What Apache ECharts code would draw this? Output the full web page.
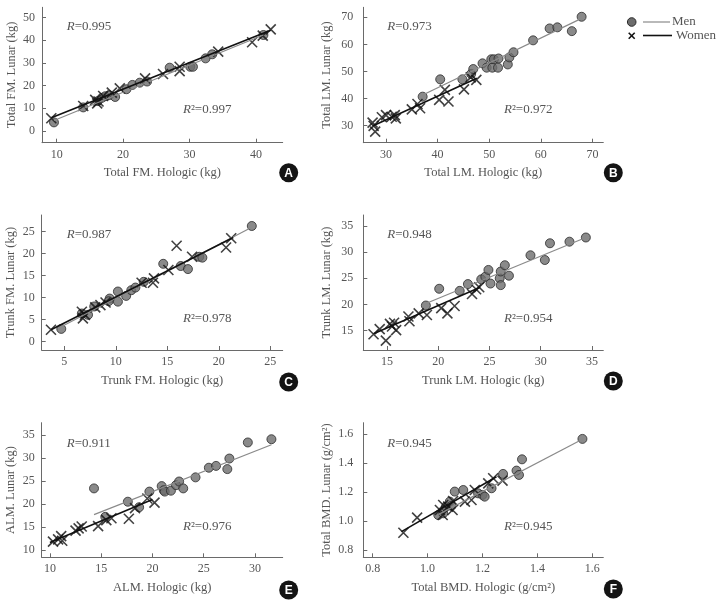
<!DOCTYPE html>
<html>
<head>
<meta charset="utf-8">
<script src="https://cdn.jsdelivr.net/npm/echarts@6/dist/echarts.min.js"></script>
<style>html,body{margin:0;padding:0;background:#fff}#c{width:720px;height:604px}</style>
</head>
<body>
<div id="c"></div>
<script>
// ---------- DATA ----------
// Panel A: Total FM
const menA = [[9.6,3.8],[14.0,10.4],[16.2,13.2],[16.8,14.6],[17.3,15.3],[17.9,15.8],[18.8,15.0],[20.5,18.4],[21.4,20.3],[22.5,21.3],[23.6,21.8],[27.0,27.9],[30.1,28.3],[30.5,28.3],[32.4,32.0],[33.4,33.8],[41.1,42.3]];
const womenA = [[9.2,5.6],[14.0,11.0],[15.8,13.7],[16.1,12.2],[16.3,13.0],[17.0,15.4],[18.3,16.9],[19.5,18.8],[23.3,23.2],[26.0,25.1],[28.5,28.3],[28.5,26.4],[34.3,35.0],[39.4,39.1],[41.0,42.0],[42.2,44.8]];
const fitMenA = [[9.6,4.6],[41.1,42.3]];
const fitWomenA = [[9.2,5.8],[42.2,44.4]];
// Panel B: Total LM
const menB = [[37.1,40.7],[40.5,47.1],[44.8,47.1],[46.5,49.1],[46.9,50.9],[48.7,53.0],[49.5,51.4],[50.4,54.5],[50.6,51.4],[50.9,54.5],[51.8,54.8],[51.7,51.4],[53.6,52.6],[53.9,55.2],[54.7,57.1],[58.5,61.5],[61.7,65.9],[63.2,66.3],[66.0,64.9],[67.9,70.2]];
const womenB = [[27.4,31.1],[27.9,27.8],[27.6,29.9],[29.2,33.1],[30.0,33.9],[31.1,33.3],[31.7,33.9],[31.9,32.7],[35.0,36.0],[36.1,38.0],[36.6,36.4],[40.3,39.5],[41.4,43.2],[42.1,38.9],[45.1,43.4],[46.4,47.8],[47.5,46.9]];
const fitMenB = [[37.1,41.3],[67.9,69.6]];
const fitWomenB = [[27.4,29.9],[47.6,47.5]];
// Panel C: Trunk FM
const menC = [[4.7,2.9],[6.7,6.4],[7.3,6.1],[7.9,8.0],[9.4,9.8],[9.3,9.2],[10.2,9.1],[10.2,11.4],[11.0,10.4],[11.5,11.7],[11.9,12.3],[12.7,13.6],[14.6,17.7],[16.3,17.2],[17.0,16.5],[18.1,19.3],[18.4,19.1],[23.2,26.3]];
const womenC = [[3.7,2.7],[6.7,6.8],[6.8,5.3],[7.0,6.1],[8.0,7.8],[8.5,8.3],[9.0,8.9],[12.5,13.4],[13.6,13.4],[13.7,14.4],[15.1,16.3],[15.9,21.8],[17.4,19.3],[20.7,21.4],[21.2,23.5]];
const fitMenC = [[4.7,3.4],[23.2,26.0]];
const fitWomenC = [[3.7,2.7],[21.4,23.7]];
// Panel D: Trunk LM
const menD = [[18.8,19.8],[20.1,23.0],[22.1,22.6],[22.9,23.9],[24.2,24.8],[24.6,25.3],[24.9,26.6],[25.1,24.0],[26.0,25.0],[26.1,23.7],[26.1,26.3],[26.5,27.5],[26.9,25.5],[29.0,29.4],[30.4,28.5],[30.9,31.7],[32.8,32.0],[34.4,32.8]];
const womenD = [[13.7,14.3],[14.3,15.3],[14.9,13.1],[15.3,16.3],[15.5,15.8],[15.7,16.5],[15.9,15.1],[17.1,17.7],[17.2,16.8],[18.1,18.3],[18.9,18.0],[20.3,19.3],[20.9,18.3],[21.6,19.7],[23.3,22.0],[23.7,22.9],[24.0,23.3]];
const fitMenD = [[18.8,20.2],[34.4,32.8]];
const fitWomenD = [[13.7,14.4],[24.1,23.3]];
// Panel E: ALM
const menE = [[14.3,23.4],[15.4,17.2],[17.6,20.5],[18.7,19.3],[19.7,22.7],[20.9,23.9],[21.1,23.0],[21.2,22.7],[21.8,22.9],[22.3,24.1],[22.6,24.9],[23.0,23.4],[24.2,25.8],[25.5,27.9],[26.2,28.3],[27.3,27.6],[27.5,29.9],[29.3,33.4],[31.6,34.1]];
const womenE = [[10.3,11.8],[10.8,12.3],[11.1,13.0],[11.2,12.0],[12.5,14.2],[12.8,14.7],[13.1,15.1],[14.7,15.2],[15.5,16.5],[16.0,16.9],[17.7,16.8],[18.3,19.1],[19.5,21.2],[20.2,20.3]];
const fitMenE = [[14.3,17.7],[31.6,32.9]];
const fitWomenE = [[10.0,11.6],[20.0,21.0]];
// Panel F: Total BMD
const menF = [[1.039,1.042],[1.057,1.054],[1.067,1.100],[1.081,1.135],[1.087,1.105],[1.099,1.204],[1.130,1.215],[1.184,1.192],[1.200,1.181],[1.208,1.169],[1.233,1.227],[1.275,1.326],[1.324,1.349],[1.333,1.319],[1.344,1.427],[1.564,1.568]];
const womenF = [[0.912,0.920],[0.962,1.024],[1.045,1.077],[1.055,1.042],[1.057,1.111],[1.075,1.100],[1.091,1.077],[1.093,1.139],[1.136,1.135],[1.160,1.146],[1.172,1.215],[1.221,1.261],[1.239,1.296],[1.273,1.280]];
const fitMenF = [[1.039,1.045],[1.564,1.566]];
const fitWomenF = [[0.905,0.927],[1.251,1.307]];

// Tick labels
const xTicksA = [10,20,30,40], yTicksA = [0,10,20,30,40,50];
const xTicksB = [30,40,50,60,70], yTicksB = [30,40,50,60,70];
const xTicksC = [5,10,15,20,25], yTicksC = [0,5,10,15,20,25];
const xTicksD = [15,20,25,30,35], yTicksD = [15,20,25,30,35];
const xTicksE = [10,15,20,25,30], yTicksE = [10,15,20,25,30,35];
const xTicksF = [0.8,1.0,1.2,1.4,1.6], yTicksF = [0.8,1.0,1.2,1.4,1.6];

const rTexts = ['0.995','0.973','0.987','0.948','0.911','0.945'];
const r2Texts = ['0.997','0.972','0.978','0.954','0.976','0.945'];
const xTitles = ['Total FM. Hologic (kg)','Total LM. Hologic (kg)','Trunk FM. Hologic (kg)','Trunk LM. Hologic (kg)','ALM. Hologic (kg)','Total BMD. Hologic (g/cm²)'];
const yTitles = ['Total FM. Lunar (kg)','Total LM. Lunar (kg)','Trunk FM. Lunar (kg)','Trunk LM. Lunar (kg)','ALM. Lunar (kg)','Total BMD. Lunar (g/cm²)'];
const letters = ['A','B','C','D','E','F'];
const legendNames = ['Men','Women'];

// ---------- LAYOUT ----------
const SERIF = '"Liberation Serif","Times New Roman",serif';
const TXT = '#555';
const AX = '#6a6a6a';
const panels = [
  {grid:{left:42,top:7.3,width:240.7,height:135.4}, x:[7.8,44.0], y:[-5.15,54.5], xt:xTicksA, yt:yTicksA, men:menA, women:womenA, fm:fitMenA, fw:fitWomenA, dec:0},
  {grid:{left:363.3,top:7.3,width:240,height:135.4}, x:[25.6,72.1], y:[23.7,73.7], xt:xTicksB, yt:yTicksB, men:menB, women:womenB, fm:fitMenB, fw:fitWomenB, dec:0},
  {grid:{left:41.7,top:215,width:241,height:135}, x:[2.8,26.2], y:[-1.9,28.8], xt:xTicksC, yt:yTicksC, men:menC, women:womenC, fm:fitMenC, fw:fitWomenC, dec:0},
  {grid:{left:363.3,top:215,width:240,height:135}, x:[12.7,36.1], y:[11.3,37.1], xt:xTicksD, yt:yTicksD, men:menD, women:womenD, fm:fitMenD, fw:fitWomenD, dec:0},
  {grid:{left:41.7,top:422.7,width:241,height:134.6}, x:[9.2,32.7], y:[8.4,37.7], xt:xTicksE, yt:yTicksE, men:menE, women:womenE, fm:fitMenE, fw:fitWomenE, dec:0},
  {grid:{left:363.3,top:422.7,width:240,height:134.6}, x:[0.766,1.64], y:[0.75,1.68], xt:xTicksF, yt:yTicksF, men:menF, women:womenF, fm:fitMenF, fw:fitWomenF, dec:1}
];
const XPATH = 'path://M0,0L10,10M10,0L0,10';

const grids = [], xAxes = [], yAxes = [], series = [], graphics = [];
panels.forEach((p, i) => {
  const right = i % 2 === 1;
  grids.push(Object.assign({containLabel:false}, p.grid));
  const fmt = v => p.dec ? Number(v).toFixed(p.dec) : String(Math.round(v));
  const common = {
    type:'value', gridIndex:i, splitLine:{show:false},
    axisLine:{show:true, onZero:false, lineStyle:{color:AX, width:1}},
    nameLocation:'middle',
    nameTextStyle:{fontFamily:SERIF, fontSize:12.5, color:TXT}
  };
  xAxes.push(Object.assign({}, common, {
    min:p.x[0], max:p.x[1], name:xTitles[i], nameGap:24,
    axisTick:{show:true, inside:true, length:4, lineStyle:{color:AX}, customValues:p.xt},
    axisLabel:{show:true, margin:6, fontFamily:SERIF, fontSize:12, color:TXT, customValues:p.xt, formatter:fmt}
  }));
  yAxes.push(Object.assign({}, common, {
    min:p.y[0], max:p.y[1], name:yTitles[i], nameGap: right ? 30 : 24,
    axisTick:{show:true, inside:true, length:4, lineStyle:{color:AX}, customValues:p.yt},
    axisLabel:{show:true, margin: right ? 10 : 7, fontFamily:SERIF, fontSize:12, color:TXT, customValues:p.yt, formatter:fmt}
  }));
  series.push({type:'scatter', name:'Men', xAxisIndex:i, yAxisIndex:i, data:p.men, symbol:'circle', symbolSize:9,
    itemStyle:{color:'#6d6d6d', borderColor:'#2c2c2c', borderWidth:1}, z:2, silent:true});
  series.push({type:'scatter', name:'Women', xAxisIndex:i, yAxisIndex:i, data:p.women, symbol:XPATH, symbolSize:10,
    itemStyle:{color:'rgba(0,0,0,0)', borderColor:'#111', borderWidth:1.6}, z:3, silent:true});
  series.push({type:'line', xAxisIndex:i, yAxisIndex:i, data:p.fm, symbol:'none', lineStyle:{color:'#8a8a8a', width:1.2}, z:4, silent:true});
  series.push({type:'line', xAxisIndex:i, yAxisIndex:i, data:p.fw, symbol:'none', lineStyle:{color:'#111', width:1.6}, z:5, silent:true});

  const ox = right ? 387.3 : 66.7;
  const ox2 = right ? 504 : 183;
  const rowY = [0, 0, 208.3, 208.3, 416.6, 416.6][i];
  const rich = {i:{fontFamily:SERIF, fontSize:13, fontStyle:'italic', fill:TXT}, n:{fontFamily:SERIF, fontSize:13, fill:TXT}};
  graphics.push({type:'text', x:ox, y:26.7 + rowY, style:{text:'{i|R}{n|=' + rTexts[i] + '}', rich:rich, verticalAlign:'middle', fill:TXT}});
  graphics.push({type:'text', x:ox2, y:110 + rowY, style:{text:'{i|R}{n|²=' + r2Texts[i] + '}', rich:rich, verticalAlign:'middle', fill:TXT}});
  const bx = right ? 613.3 : 288.7;
  const by = [172.7, 172.7, 382, 381, 590, 589][i];
  graphics.push({type:'circle', shape:{cx:bx, cy:by, r:9.5}, style:{fill:'#141414'}});
  graphics.push({type:'text', x:bx, y:by + 0.5, style:{text:letters[i], fill:'#fff', font:'bold 12px "Liberation Sans", Arial, sans-serif', align:'center', verticalAlign:'middle'}});
});

// Legend (panel B)
graphics.push({type:'circle', shape:{cx:631.7, cy:22, r:4.3}, style:{fill:'#6d6d6d', stroke:'#2c2c2c', lineWidth:1}});
graphics.push({type:'line', shape:{x1:643, y1:22, x2:670, y2:22}, style:{stroke:'#8a8a8a', lineWidth:1.2}});
graphics.push({type:'text', x:672, y:22, style:{text:legendNames[0], font:'13px ' + SERIF, fill:TXT, verticalAlign:'middle'}});
graphics.push({type:'line', shape:{x1:628.7, y1:32.7, x2:634.7, y2:38.7}, style:{stroke:'#111', lineWidth:1.6}});
graphics.push({type:'line', shape:{x1:634.7, y1:32.7, x2:628.7, y2:38.7}, style:{stroke:'#111', lineWidth:1.6}});
graphics.push({type:'line', shape:{x1:643, y1:35.5, x2:672, y2:35.5}, style:{stroke:'#111', lineWidth:1.6}});
graphics.push({type:'text', x:676, y:35.5, style:{text:legendNames[1], font:'13px ' + SERIF, fill:TXT, verticalAlign:'middle'}});

const chart = echarts.init(document.getElementById('c'), null, {renderer:'canvas'});
chart.setOption({
  animation:false,
  backgroundColor:'#fff',
  grid:grids, xAxis:xAxes, yAxis:yAxes, series:series,
  graphic:{elements:graphics}
});
</script>
</body>
</html>
